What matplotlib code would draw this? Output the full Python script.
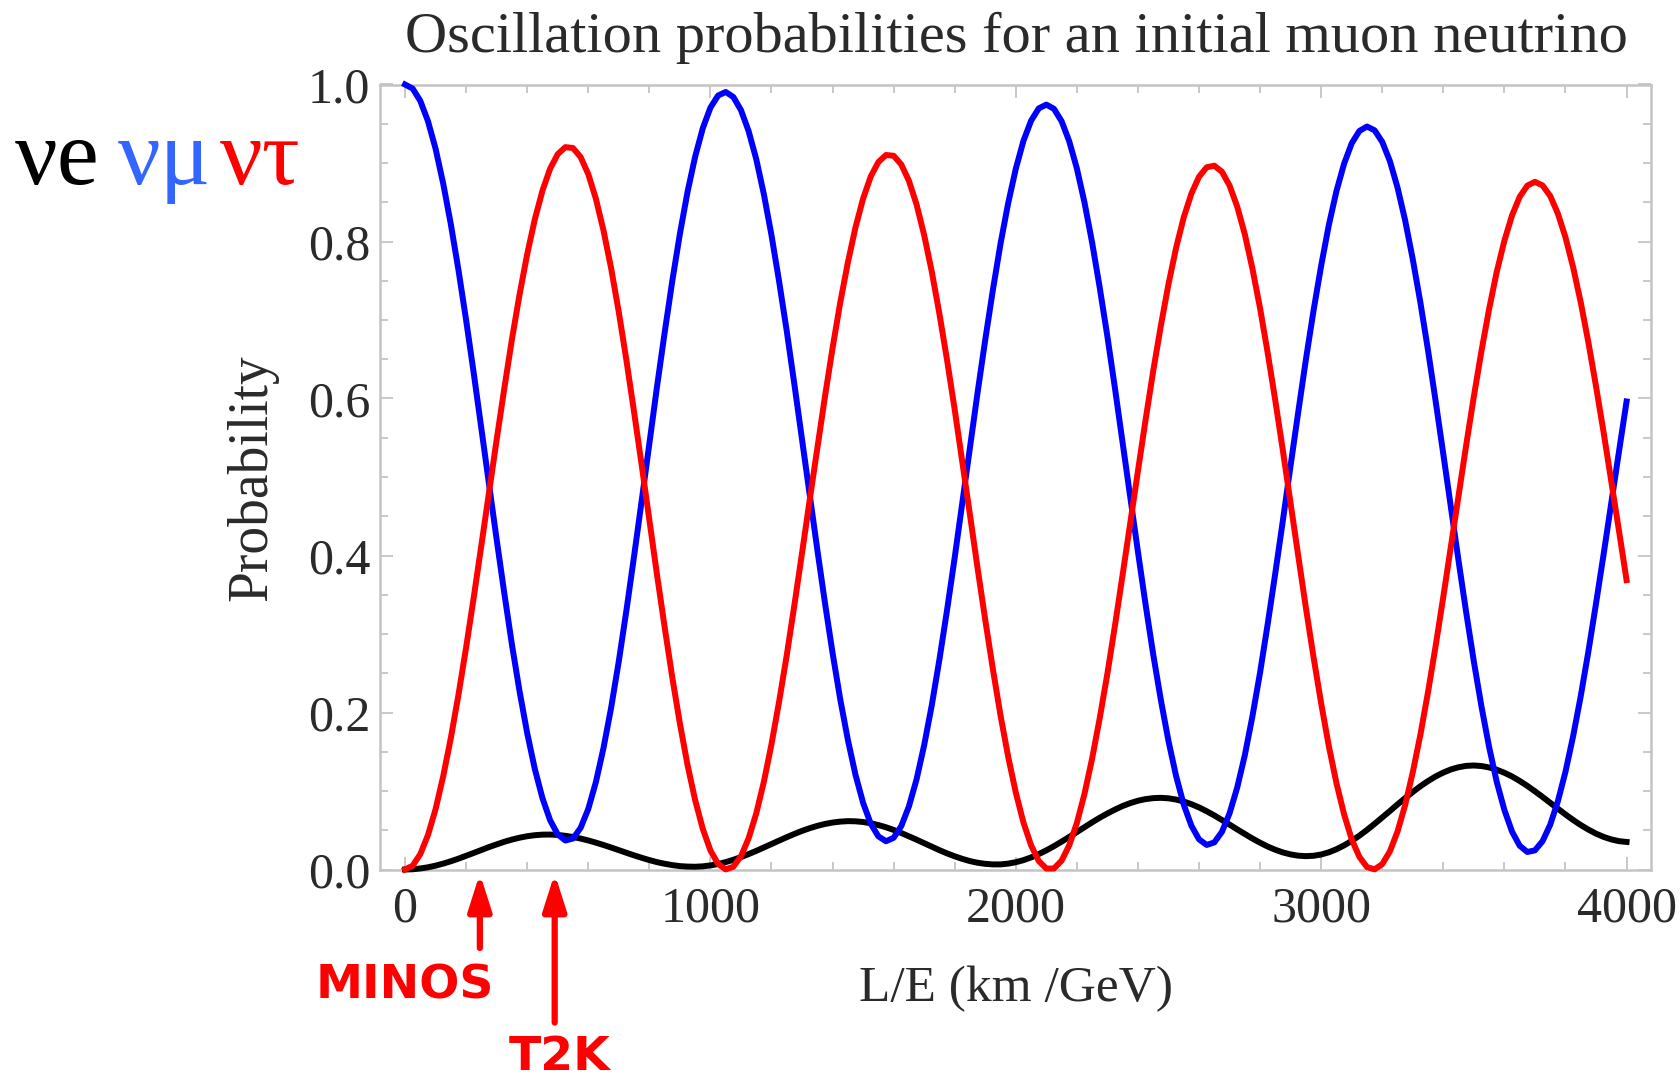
import numpy as np
import matplotlib
matplotlib.use("Agg")
import matplotlib.pyplot as plt
from matplotlib.ticker import MultipleLocator

# L/E sample points (km/GeV), every 25, and probabilities
le = np.arange(0, 4001, 25)

p_tau = [0.0, 0.0049, 0.0196, 0.0438, 0.0769, 0.1188, 0.1676, 0.2227,
         0.2828, 0.3468, 0.4132, 0.4806, 0.5476, 0.6127, 0.6753, 0.7325,
         0.7839, 0.8283, 0.8648, 0.8927, 0.9113, 0.9202, 0.9191, 0.9075,
         0.8859, 0.8544, 0.8138, 0.7656, 0.7100, 0.6485, 0.5828, 0.5150,
         0.4452, 0.3758, 0.3091, 0.2450, 0.1860, 0.1332, 0.0884, 0.0517,
         0.0243, 0.0071, 0.0001, 0.0035, 0.0168, 0.0397, 0.0713, 0.1117,
         0.1597, 0.2141, 0.2731, 0.3369, 0.4032, 0.4706, 0.5369, 0.6023,
         0.6644, 0.7220, 0.7731, 0.8179, 0.8547, 0.8828, 0.9012, 0.9102,
         0.9092, 0.8981, 0.8773, 0.8472, 0.8080, 0.7614, 0.7076, 0.6487,
         0.5856, 0.5189, 0.4515, 0.3834, 0.3178, 0.2551, 0.1962, 0.1437,
         0.0980, 0.0599, 0.0308, 0.0109, 0.0012, 0.0013, 0.0113, 0.0309,
         0.0593, 0.0965, 0.1415, 0.1932, 0.2498, 0.3114, 0.3760, 0.4422,
         0.5078, 0.5729, 0.6352, 0.6928, 0.7457, 0.7921, 0.8309, 0.8610,
         0.8825, 0.8945, 0.8966, 0.8889, 0.8712, 0.8445, 0.8091, 0.7651,
         0.7147, 0.6577, 0.5967, 0.5325, 0.4657, 0.3993, 0.3332, 0.2704,
         0.2115, 0.1572, 0.1100, 0.0702, 0.0384, 0.0161, 0.0031, 0.0002,
         0.0069, 0.0231, 0.0484, 0.0823, 0.1240, 0.1720, 0.2263, 0.2853,
         0.3477, 0.4120, 0.4769, 0.5410, 0.6028, 0.6609, 0.7142, 0.7615,
         0.8011, 0.8333, 0.8569, 0.8712, 0.8760, 0.8714, 0.8580, 0.8356,
         0.8053, 0.7671, 0.7224, 0.6714, 0.6154, 0.5565, 0.4944, 0.4319,
         0.3687]

p_e = [0.0, 0.0003, 0.0013, 0.0028, 0.0049, 0.0075, 0.0105, 0.0138,
       0.0174, 0.0211, 0.0249, 0.0286, 0.0320, 0.0353, 0.0381, 0.0405,
       0.0424, 0.0437, 0.0444, 0.0445, 0.0440, 0.0429, 0.0414, 0.0394,
       0.0370, 0.0342, 0.0312, 0.0280, 0.0246, 0.0213, 0.0180, 0.0149,
       0.0120, 0.0094, 0.0073, 0.0056, 0.0043, 0.0037, 0.0035, 0.0040,
       0.0052, 0.0070, 0.0094, 0.0124, 0.0158, 0.0196, 0.0237, 0.0281,
       0.0324, 0.0369, 0.0412, 0.0453, 0.0492, 0.0526, 0.0556, 0.0580,
       0.0598, 0.0610, 0.0616, 0.0614, 0.0605, 0.0589, 0.0566, 0.0538,
       0.0504, 0.0465, 0.0423, 0.0380, 0.0335, 0.0290, 0.0246, 0.0205,
       0.0168, 0.0135, 0.0107, 0.0086, 0.0072, 0.0065, 0.0065, 0.0075,
       0.0093, 0.0119, 0.0154, 0.0196, 0.0244, 0.0297, 0.0355, 0.0415,
       0.0477, 0.0539, 0.0601, 0.0660, 0.0714, 0.0764, 0.0809, 0.0846,
       0.0876, 0.0897, 0.0909, 0.0913, 0.0907, 0.0891, 0.0866, 0.0832,
       0.0791, 0.0742, 0.0689, 0.0631, 0.0572, 0.0511, 0.0452, 0.0394,
       0.0341, 0.0292, 0.0251, 0.0217, 0.0192, 0.0176, 0.0170, 0.0175,
       0.0191, 0.0219, 0.0258, 0.0307, 0.0365, 0.0431, 0.0504, 0.0582,
       0.0663, 0.0745, 0.0829, 0.0910, 0.0988, 0.1061, 0.1127, 0.1186,
       0.1235, 0.1275, 0.1303, 0.1320, 0.1325, 0.1318, 0.1300, 0.1271,
       0.1232, 0.1185, 0.1128, 0.1065, 0.0996, 0.0924, 0.0849, 0.0775,
       0.0701, 0.0631, 0.0566, 0.0508, 0.0457, 0.0415, 0.0383, 0.0361,
       0.0351]

p_mu = [1.0, 0.9948, 0.9791, 0.9534, 0.9182, 0.8737, 0.8219, 0.7635,
        0.6998, 0.6321, 0.5619, 0.4908, 0.4204, 0.3520, 0.2866, 0.2270,
        0.1737, 0.1280, 0.0908, 0.0628, 0.0447, 0.0369, 0.0395, 0.0531,
        0.0771, 0.1114, 0.1550, 0.2064, 0.2654, 0.3302, 0.3992, 0.4701,
        0.5428, 0.6148, 0.6836, 0.7494, 0.8097, 0.8631, 0.9081, 0.9443,
        0.9705, 0.9859, 0.9905, 0.9841, 0.9674, 0.9407, 0.9050, 0.8602,
        0.8079, 0.7490, 0.6857, 0.6178, 0.5476, 0.4768, 0.4075, 0.3397,
        0.2758, 0.2170, 0.1653, 0.1207, 0.0848, 0.0583, 0.0422, 0.0360,
        0.0404, 0.0554, 0.0804, 0.1148, 0.1585, 0.2096, 0.2678, 0.3308,
        0.3976, 0.4676, 0.5378, 0.6080, 0.6750, 0.7384, 0.7973, 0.8488,
        0.8927, 0.9282, 0.9538, 0.9695, 0.9744, 0.9690, 0.9532, 0.9276,
        0.8930, 0.8496, 0.7984, 0.7408, 0.6788, 0.6122, 0.5431, 0.4732,
        0.4046, 0.3374, 0.2739, 0.2159, 0.1636, 0.1188, 0.0825, 0.0558,
        0.0384, 0.0313, 0.0345, 0.0480, 0.0716, 0.1044, 0.1457, 0.1955,
        0.2512, 0.3131, 0.3782, 0.4458, 0.5151, 0.5831, 0.6498, 0.7121,
        0.7694, 0.8209, 0.8642, 0.8991, 0.9251, 0.9408, 0.9465, 0.9416,
        0.9268, 0.9024, 0.8687, 0.8267, 0.7772, 0.7219, 0.6610, 0.5961,
        0.5288, 0.4605, 0.3928, 0.3270, 0.2647, 0.2073, 0.1558, 0.1114,
        0.0757, 0.0482, 0.0303, 0.0223, 0.0244, 0.0362, 0.0571, 0.0869,
        0.1246, 0.1698, 0.2210, 0.2778, 0.3389, 0.4020, 0.4673, 0.5320,
        0.5962]

experiments = ["MINOS", "T2K"]
experiment_le = [245, 490]

serif = ["Liberation Serif", "DejaVu Serif"]
frame_col = "#c4c4c4"
text_col = "#2a2a2a"

fig = plt.figure(figsize=(16.8, 10.82), dpi=100)
ax = fig.add_axes([380 / 1680, 1 - 869.5 / 1082, 1271 / 1680, 785 / 1082])

ax.plot(le, p_e, color="black", lw=4.3, clip_on=False, zorder=3)
ax.plot(le, p_mu, color="#0000ff", lw=4.3, clip_on=False, zorder=4)
ax.plot(le, p_tau, color="#ff0000", lw=4.3, clip_on=False, zorder=5)

ax.set_xlim(-82, 4080)
ax.set_ylim(0, 1)
ax.xaxis.set_major_locator(MultipleLocator(1000))
ax.xaxis.set_minor_locator(MultipleLocator(200))
ax.yaxis.set_major_locator(MultipleLocator(0.2))
ax.yaxis.set_minor_locator(MultipleLocator(0.05))
ax.xaxis.set_major_formatter(plt.FuncFormatter(lambda v, p: f"{v:.0f}"))
ax.yaxis.set_major_formatter(plt.FuncFormatter(lambda v, p: f"{v:.1f}"))

for s in ax.spines.values():
    s.set_color(frame_col)
    s.set_linewidth(1.8)
ax.tick_params(which="both", direction="in", top=True, right=True, color=frame_col,
               width=1.3, labelcolor=text_col)
ax.tick_params(which="major", length=9.5)
ax.tick_params(which="minor", length=5.5)
ax.tick_params(axis="x", which="major", pad=12)
ax.tick_params(axis="y", which="major", pad=7)
for lab in ax.get_xticklabels() + ax.get_yticklabels():
    lab.set_family(serif)
    lab.set_fontsize(36)

fig.text(1016 / 1680, 1 - 37.5 / 1082, "Oscillation probabilities for an initial muon neutrino",
         ha="center", va="center", fontsize=42, family=serif, color=text_col)
fig.text(1016 / 1680, 1 - 989 / 1082, "L/E (km /GeV)", ha="center", va="center",
         fontsize=37, family=serif, color=text_col)
fig.text(252 / 1680, 1 - 478 / 1082, "Probability", rotation=90, ha="center", va="center",
         fontsize=40, family=serif, color=text_col)

# flavour key on the left
fig.text(15 / 1680, 1 - 184 / 1082, "\u03bde", color="black", fontsize=68, family=serif,
         ha="left", va="baseline")
fig.text(118 / 1680, 1 - 184 / 1082, "\u03bd\u03bc", color="#3366ff", fontsize=68,
         family=serif, ha="left", va="baseline")
fig.text(220 / 1680, 1 - 184 / 1082, "\u03bd\u03c4", color="#ff0000", fontsize=68,
         family=serif, ha="left", va="baseline")

# experiment arrows
trans = ax.get_xaxis_transform()
tails = [-0.100, -0.195]
text_pos = [(405, 986), (560, 1057)]
for name, x, tail, (tx, ty) in zip(experiments, experiment_le, tails, text_pos):
    ax.annotate("", xy=(x, -0.005), xytext=(x, tail), xycoords=trans, textcoords=trans,
                annotation_clip=False,
                arrowprops=dict(arrowstyle="-|>,head_length=1.1,head_width=0.35",
                                mutation_scale=20, lw=4.5, color="#ff0000",
                                shrinkA=0, shrinkB=0))
    fig.text(tx / 1680, 1 - ty / 1082, name, color="#ff0000", fontsize=34,
             fontweight="bold", family="DejaVu Sans", ha="center", va="center")

fig.savefig("out.png", dpi=100)
